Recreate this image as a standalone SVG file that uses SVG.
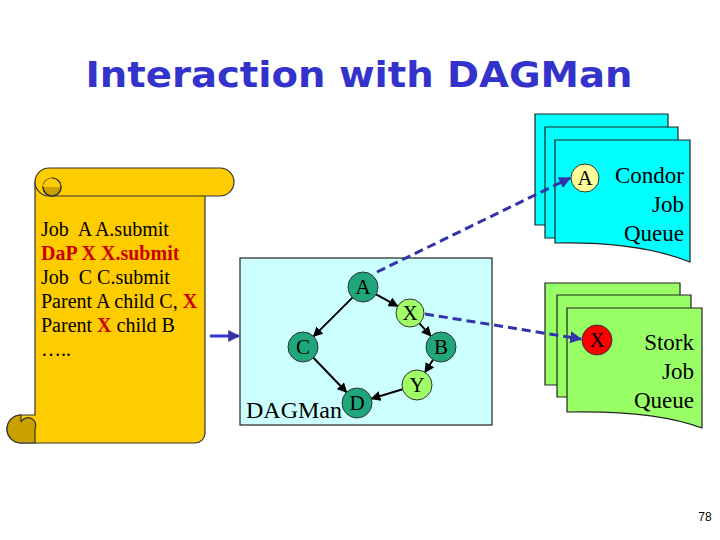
<svg xmlns="http://www.w3.org/2000/svg" width="720" height="540" viewBox="0 0 720 540">
<defs>
<style>
.t{font-family:"Liberation Serif","Times New Roman",serif;fill:#000}
.red{fill:#CC0000;font-weight:bold}
.edge{stroke:#000;stroke-width:2;fill:none;marker-end:url(#ah)}
.dash{stroke:#3333AA;stroke-width:3;stroke-dasharray:9 5;fill:none;marker-end:url(#bh)}
.node{stroke:#333;stroke-width:1}
.dark{fill:#1FA67A}
.light{fill:#A0FF66}
.page{stroke:#222;stroke-width:1.2}
.scroll{fill:#FFCC00;stroke:#333;stroke-width:1.2}
.curl{fill:#C8A000;stroke:#333;stroke-width:1.2}
</style>
<marker id="ah" viewBox="0 0 10 10" refX="9" refY="5" markerWidth="5" markerHeight="5" orient="auto"><path d="M0,0 L10,5 L0,10 z" fill="#000"/></marker>
<marker id="bh" viewBox="0 0 10 10" refX="9" refY="5" markerWidth="4" markerHeight="4" orient="auto"><path d="M0,0 L10,5 L0,10 z" fill="#3333AA"/></marker>
</defs>
<rect width="720" height="540" fill="#fff"/>
<text x="359" y="87" text-anchor="middle" textLength="547" lengthAdjust="spacingAndGlyphs" style="font-family:'DejaVu Sans',sans-serif;font-weight:bold;font-size:36px;fill:#3333CC">Interaction with DAGMan</text>

<g id="scroll">
<path class="scroll" d="M35,182 H205 V433 A10,10 0 0 1 195,443 H21 A14,14 0 0 1 21,415 H35 Z"/>
<path class="scroll" d="M49,168 H220 A14,14 0 0 1 220,196 H49 A14,14 0 0 1 49,168 Z"/>
<path class="curl" d="M52,178 A9,9 0 1 1 43,187 A9,9 0 0 1 52,178 Z"/>
<path class="scroll" d="M43,187 A9,9 0 0 1 61,187 Z" style="stroke:none"/>
<path d="M43,187 A9,9 0 1 0 52,178" fill="none" stroke="#333" stroke-width="1.2"/>
<path class="curl" d="M21,415 A14,14 0 1 0 21,443 H35 V429 A7,7 0 0 0 21,422 Z"/>
<text class="t" font-size="20" xml:space="preserve"><tspan x="41" y="236">Job  A A.submit</tspan><tspan x="41" y="260" class="red">DaP X X.submit</tspan><tspan x="41" y="284">Job  C C.submit</tspan><tspan x="41" y="308">Parent A child C, <tspan class="red">X</tspan></tspan><tspan x="41" y="332">Parent <tspan class="red">X</tspan> child B</tspan><tspan x="41" y="356">…..</tspan></text>
</g>

<g id="condor-queue">
<path class="page" fill="#00FFFF" d="M535,114 H668 V225 H535 Z"/>
<path class="page" fill="#00FFFF" d="M545,127 H678 V238 H545 Z"/>
<path class="page" fill="#00FFFF" d="M555,140 H690 V262 C650,246 600,242 555,243 Z"/>
<g id="condor-A"><circle cx="585" cy="178" r="14" fill="#FFFF99" class="node"/><text class="t" x="585" y="185" font-size="21" text-anchor="middle">A</text></g>
<text class="t" font-size="23" text-anchor="end"><tspan x="684" y="183">Condor</tspan><tspan x="684" y="212">Job</tspan><tspan x="684" y="241">Queue</tspan></text>
</g>

<g id="stork-queue">
<path class="page" fill="#99FF66" d="M545,283 H680 V385 H545 Z"/>
<path class="page" fill="#99FF66" d="M557,295 H691 V397 H557 Z"/>
<path class="page" fill="#99FF66" d="M567,308 H702 V428 C662,413 612,411 567,412 Z"/>
<g id="stork-X"><circle cx="597" cy="340" r="15" fill="#FF0000" class="node"/><text class="t" x="597" y="347" font-size="21" text-anchor="middle">X</text></g>
<text class="t" font-size="23" text-anchor="end"><tspan x="694" y="350">Stork</tspan><tspan x="694" y="379">Job</tspan><tspan x="694" y="408">Queue</tspan></text>
</g>

<g id="dagman">
<rect x="240" y="258" width="252" height="167" fill="#CCFFFF" stroke="#222" stroke-width="1.2"/>
<text class="t" x="246" y="418" font-size="24">DAGMan</text>
</g>

<g id="connectors">
<line x1="210" y1="336" x2="239" y2="336" stroke="#3333CC" stroke-width="3" marker-end="url(#bh)"/>
<line class="edge" x1="352.4" y1="297.6" x2="313.6" y2="336.4"/>
<line class="edge" x1="376.1" y1="294.3" x2="397.7" y2="306.2"/>
<line class="edge" x1="419.4" y1="323.3" x2="430.9" y2="335.9"/>
<line class="edge" x1="433" y1="359.7" x2="425" y2="372.3"/>
<line class="edge" x1="402.6" y1="389.3" x2="371.4" y2="398.7"/>
<line class="edge" x1="313.4" y1="357.8" x2="346.6" y2="392.2"/>
<line class="dash" x1="377" y1="272" x2="570" y2="178"/>
<line class="dash" x1="425" y1="314" x2="581" y2="339"/>
</g>

<g id="node-A"><circle cx="363" cy="287" r="15" class="node dark"/><text class="t" x="363" y="294" font-size="21" text-anchor="middle">A</text></g>
<g id="node-X"><circle cx="410" cy="313" r="14" class="node light"/><text class="t" x="410" y="320" font-size="21" text-anchor="middle">X</text></g>
<g id="node-C"><circle cx="303" cy="347" r="15" class="node dark"/><text class="t" x="303" y="354" font-size="21" text-anchor="middle">C</text></g>
<g id="node-B"><circle cx="441" cy="347" r="15" class="node dark"/><text class="t" x="441" y="354" font-size="21" text-anchor="middle">B</text></g>
<g id="node-Y"><circle cx="417" cy="385" r="15" class="node light"/><text class="t" x="417" y="392" font-size="21" text-anchor="middle">Y</text></g>
<g id="node-D"><circle cx="357" cy="403" r="15" class="node dark"/><text class="t" x="357" y="410" font-size="21" text-anchor="middle">D</text></g>

<text x="705" y="521" font-size="12" text-anchor="middle" style="font-family:'Liberation Sans',Arial,sans-serif">78</text>
</svg>
